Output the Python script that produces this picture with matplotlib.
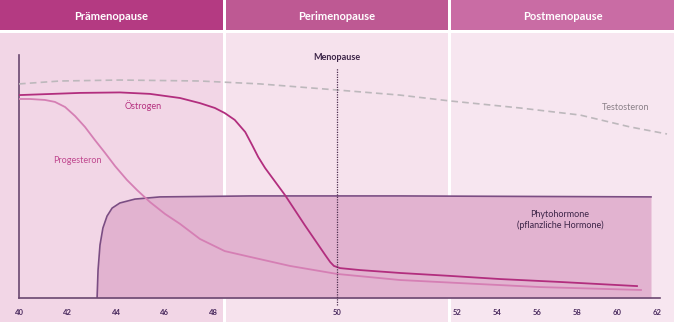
import numpy as np
import matplotlib.pyplot as plt
from matplotlib.patches import Rectangle

plt.rcParams['font.family'] = ['Lato', 'DejaVu Sans']

# age axis is stretched around the menopause: knots of the piecewise scale
scale_ages = [38, 40, 48, 50, 52, 62, 64]
scale_pos = [-29.5, 19, 213, 337, 457, 657, 697]
tick_ages = [40, 42, 44, 46, 48, 50, 52, 54, 56, 58, 60, 62]

phases = ['Prämenopause', 'Perimenopause', 'Postmenopause']

# hormone levels (relative units, 0-100) over age
oestrogen_age = [40, 42.52, 44.16, 45.40, 46.64, 47.46, 48.03, 48.19, 48.35, 48.52,
                 48.63, 48.73, 48.84, 49.16, 49.48, 49.81, 49.89, 49.95, 50.05,
                 50.38, 51.05, 51.88, 54.15, 57.15, 61.0]
oestrogen_level = [83.5, 84.4, 84.6, 84.0, 82.3, 80.2, 78.2, 76.1, 73.3, 68.3,
                   63.0, 58.0, 53.5, 42.4, 30.0, 17.7, 14.8, 13.2, 12.3,
                   11.5, 10.3, 9.1, 7.8, 6.6, 4.9]

progesteron_age = [40, 40.45, 41.07, 41.48, 41.90, 42.31, 42.72, 43.13, 43.55, 43.96,
                   44.45, 44.87, 45.40, 46.02, 46.64, 47.46, 48.19, 48.60, 49.24,
                   50, 51.05, 52, 56.15, 61.2]
progesteron_level = [81.9, 81.9, 81.5, 80.7, 78.6, 74.9, 70.4, 65.0, 59.7, 54.3,
                     48.6, 44.4, 39.5, 34.6, 30.5, 24.3, 19.3, 16.9, 13.2,
                     9.9, 7.4, 6.2, 4.5, 3.3]

testosteron_age = [40, 41.69, 44.16, 47.46, 48.76, 50, 51.05, 51.88, 55.15, 58.15, 60.65, 62.5]
testosteron_level = [88.1, 89.3, 89.7, 89.3, 88.1, 85.6, 83.5, 81.1, 78.2, 75.3, 70.4, 67.5]

phyto_age = [43.22, 43.26, 43.34, 43.46, 43.63, 43.84, 44.16, 44.78, 45.81, 48.60, 51.05, 61.7]
phyto_level = [0, 11.5, 21.8, 28.8, 33.7, 37.0, 39.1, 40.7, 41.6, 42.0, 42.0, 41.6]

menopause_age = 50

W, H = 674, 322
fig = plt.figure(figsize=(W / 100, H / 100), dpi=100)

# background: phase headers and column bands, in pixel units
bg = fig.add_axes([0, 0, 1, 1])
bg.set_xlim(0, W)
bg.set_ylim(H, 0)
bg.axis('off')
cols = [(0, 223), (226, 448), (451, 674)]
head_colors = ['#b43a82', '#be5993', '#c96ca4']
band_colors = ['#f2d6e6', '#f6e2ed', '#f7e6f0']
for (x0, x1), hc, bc, name in zip(cols, head_colors, band_colors, phases):
    bg.add_patch(Rectangle((x0, 0), x1 - x0, 30, color=hc, lw=0))
    bg.add_patch(Rectangle((x0, 33), x1 - x0, H - 33, color=bc, lw=0))
    bg.text((x0 + x1) / 2, 16, name, color='white', fontsize=8, fontweight='bold',
            ha='center', va='center')


def fwd(a):
    return np.interp(a, scale_ages, scale_pos)


def inv(p):
    return np.interp(p, scale_pos, scale_ages)


ax = fig.add_axes([19 / W, 1 - 298 / H, (660 - 19) / W, (298 - 55) / H])
ax.patch.set_alpha(0)
ax.set_xscale('function', functions=(fwd, inv))
ax.set_xlim(40, inv(660))
ax.set_ylim(0, 100)

axis_col = '#6a4870'
for s in ['top', 'right']:
    ax.spines[s].set_visible(False)
for s in ['left', 'bottom']:
    ax.spines[s].set_color(axis_col)
    ax.spines[s].set_linewidth(1.2)
ax.set_yticks([])
ax.set_xticks(tick_ages)
ax.set_xticklabels([str(t) for t in tick_ages])
ax.xaxis.set_minor_locator(plt.FixedLocator([40]))
ax.tick_params(axis='x', which='major', length=0, pad=8, labelsize=5.5,
               labelcolor='#4a2a5e')
ax.tick_params(axis='x', which='minor', length=6, width=1.2, color=axis_col)
for lbl in ax.get_xticklabels():
    lbl.set_fontweight('bold')

# phytohormone area
ax.fill_between(phyto_age, 0, phyto_level, color='#e2b3d0', lw=0, zorder=1)
ax.plot(phyto_age, phyto_level, color='#7b4d83', lw=1.2, zorder=2)

ax.plot(progesteron_age, progesteron_level, color='#d57fb4', lw=1.3, zorder=3)
ax.plot(oestrogen_age, oestrogen_level, color='#b22e7e', lw=1.3, zorder=4)
ax.plot(testosteron_age, testosteron_level, color='#bdb8bc', lw=1.2,
        ls=(0, (4, 2.5)), zorder=3, clip_on=False)

# menopause marker
ax.plot([menopause_age, menopause_age], [-3, 94.5], color='#4d3050', lw=0.9,
        ls=(0, (1, 1)), zorder=5, clip_on=False)
ax.text(menopause_age, 99, 'Menopause', color='#3d2548', fontsize=6.5,
        fontweight='bold', ha='center', va='center')

ax.text(45.11, 79.0, 'Östrogen', color='#b5307f', fontsize=6.5, ha='center', va='center')
ax.text(42.39, 56.4, 'Progesteron', color='#c0488f', fontsize=6.5, ha='center', va='center')
ax.text(60.45, 78.6, 'Testosteron', color='#8a8088', fontsize=6.5, ha='center', va='center')
ax.text(57.15, 32.1, 'Phytohormone\n(pflanzliche Hormone)', color='#3d2548',
        fontsize=6.5, ha='center', va='center', linespacing=1.3)

fig.savefig('out.png', dpi=100)
